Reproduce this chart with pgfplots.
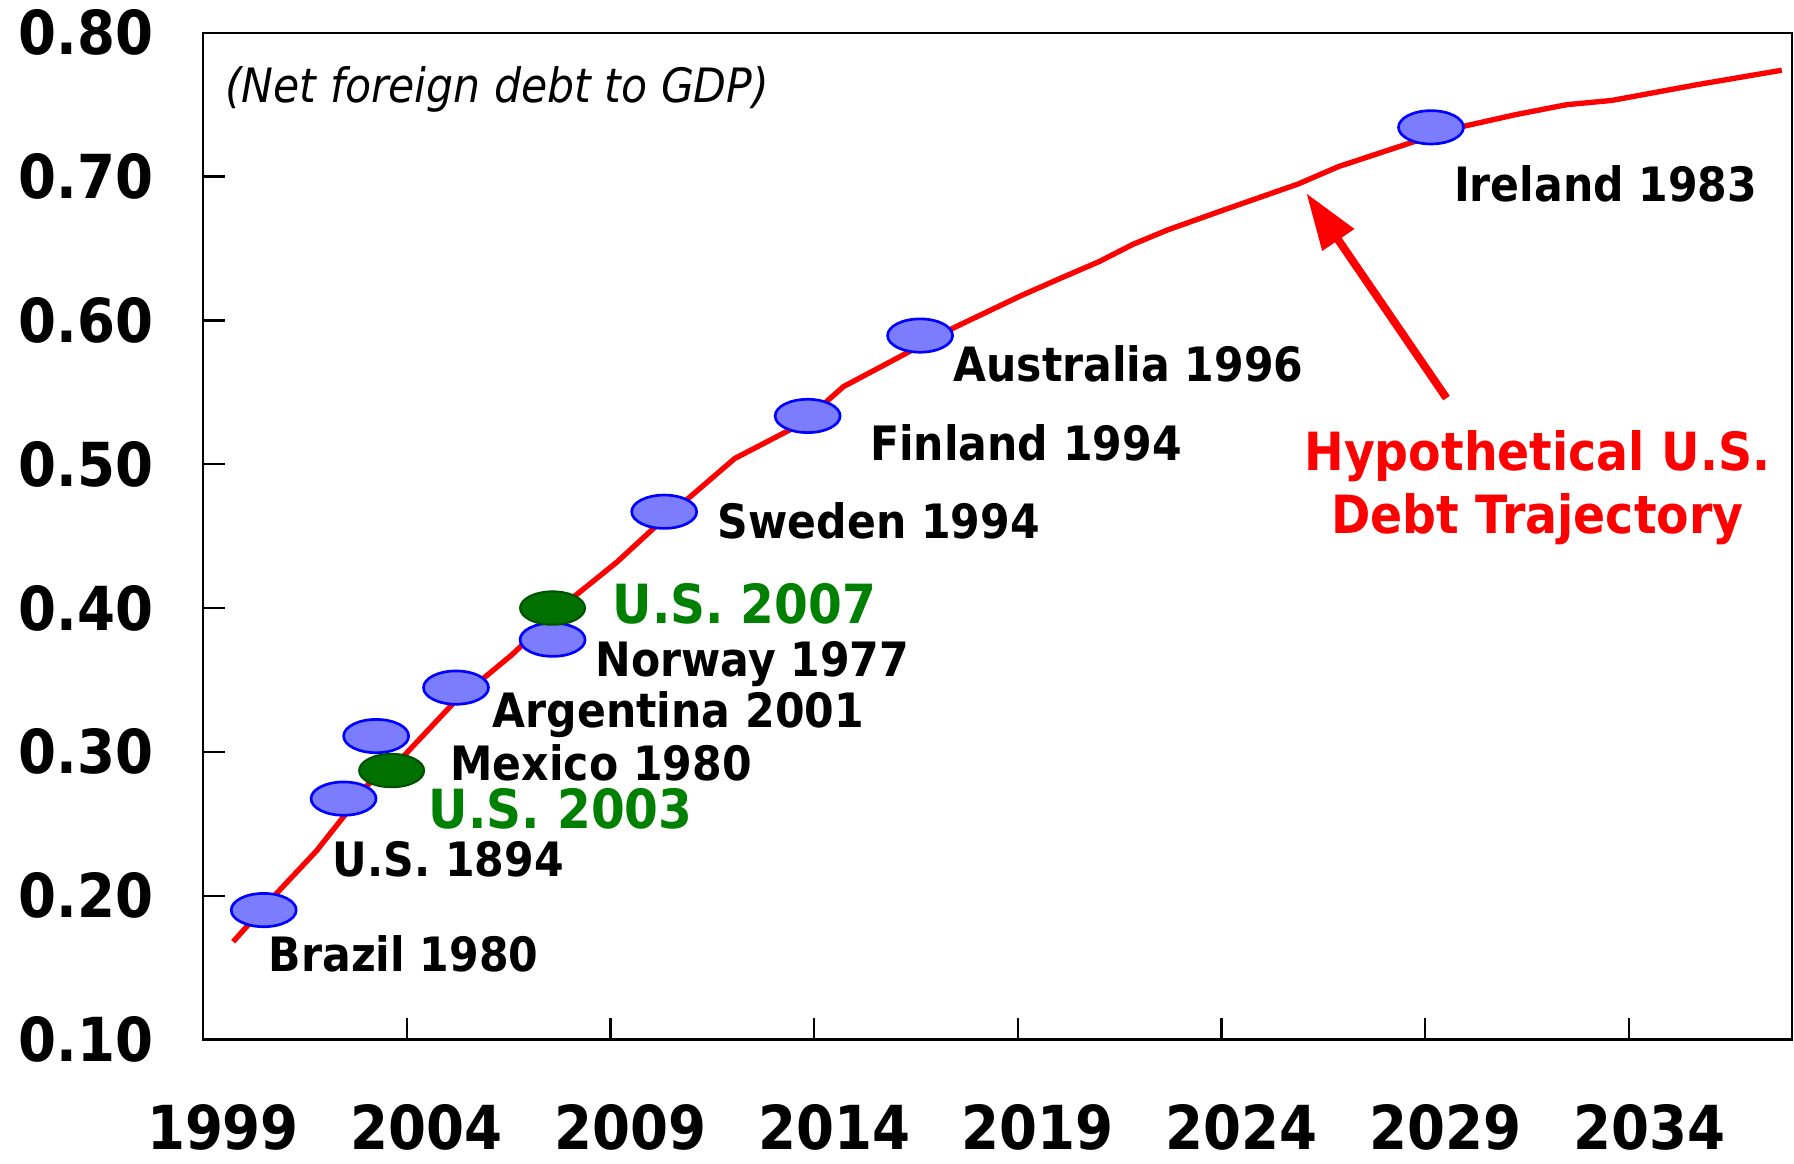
\documentclass[border=0pt]{standalone}
\usepackage{fontspec}
\setmainfont{DejaVu Sans Condensed}
\usepackage{pgfplots}
\pgfplotsset{compat=1.18}
\usetikzlibrary{arrows.meta}
\definecolor{markblue}{HTML}{7C7CFF}
\definecolor{usgreen}{HTML}{007000}
\definecolor{usgreenedge}{HTML}{005000}
\definecolor{labgreen}{HTML}{008000}

\begin{document}
\begin{tikzpicture}
\begin{axis}[
  scale only axis,
  width=476.7pt,
  height=302pt,
  xmin=1999, xmax=2038,
  ymin=0.1, ymax=0.8,
  xtick={1999,2004,...,2034},
  ytick={0.1,0.2,...,0.8},
  xticklabel={\pgfmathprintnumber[1000 sep={}]{\tick}},
  yticklabel style={/pgf/number format/fixed, /pgf/number format/fixed zerofill,
    /pgf/number format/precision=2},
  /pgf/number format/assume math mode=true,
  tick label style={font=\bfseries\fontsize{18.2}{20}\selectfont},
  xticklabel style={yshift=-16pt, xshift=6pt},
  yticklabel style={xshift=-11.4pt},
  tick align=inside,
  xtick pos=left, ytick pos=left,
  major tick length=6.5pt,
  axis line style={line width=0.8pt},
  every tick/.style={black, line width=0.7pt},
  clip=false,
]
% hypothetical trajectory
\addplot[red, line width=1.6pt] coordinates {
  (1999.74,0.168) (2000.72,0.199) (2001.78,0.231) (2002.48,0.256)
  (2003.04,0.277) (2003.89,0.296) (2005.15,0.334) (2006.56,0.367)
  (2008.11,0.408) (2009.16,0.432) (2010.08,0.456) (2012.05,0.504)
  (2013.68,0.528) (2014.72,0.554) (2016.05,0.574) (2017.36,0.594)
  (2019.06,0.617) (2020.02,0.629) (2021.00,0.641) (2021.83,0.653)
  (2022.68,0.663) (2024.07,0.677) (2025.89,0.695) (2026.87,0.707)
  (2028.69,0.724) (2029.94,0.735) (2031.20,0.743) (2032.46,0.750)
  (2033.58,0.753) (2035.68,0.764) (2037.75,0.774)
};
% other countries
\addplot[only marks, mark=*, mark size=5pt,
  mark options={xscale=1.95, fill=markblue, draw=blue, line width=0.8pt}]
  coordinates {
  (2000.49,0.190) (2002.45,0.2675) (2003.25,0.311) (2005.21,0.3447)
  (2007.58,0.378) (2010.32,0.467) (2013.84,0.5336) (2016.60,0.5895)
  (2029.14,0.7343)
};
% U.S.
\addplot[only marks, mark=*, mark size=5pt,
  mark options={xscale=1.95, fill=usgreen, draw=usgreenedge, line width=0.6pt}]
  coordinates {(2003.63,0.287) (2007.58,0.400)};

\begin{scope}[every node/.style={anchor=west, inner sep=0pt, font=\bfseries\fontsize{14.2}{16}\selectfont}]
\node at (axis cs:2000.60,0.1593) {Brazil 1980};
\node at (axis cs:2002.17,0.2254) {U.S. 1894};
\node at (axis cs:2005.06,0.2922) {Mexico 1980};
\node at (axis cs:2006.10,0.3256) {Argentina 2001};
\node at (axis cs:2008.62,0.3614) {Norway 1977};
\node at (axis cs:2011.62,0.4609) {Sweden 1994};
\node at (axis cs:2015.36,0.5150) {Finland 1994};
\node at (axis cs:2017.40,0.5699) {Australia 1996};
\node at (axis cs:2029.69,0.6948) {Ireland 1983};
\node[text=labgreen, font=\bfseries\fontsize{16.2}{18}\selectfont] at (axis cs:2004.53,0.2604) {U.S. 2003};
\node[text=labgreen, font=\bfseries\fontsize{16.2}{18}\selectfont] at (axis cs:2009.04,0.4028) {U.S. 2007};
\node[font=\itshape\fontsize{14.2}{16}\selectfont] at (axis cs:1999.53,0.7608) {(Net foreign debt to GDP)};
\end{scope}
\node[text=red, align=center, font=\bfseries\fontsize{15.8}{18.8}\selectfont]
  at (axis cs:2031.75,0.4835) {Hypothetical U.S.\\Debt Trajectory};
\draw[red, line width=2.4pt, -{Triangle[length=17pt, width=11pt]}]
  (axis cs:2029.52,0.546) -- (axis cs:2026.08,0.6885);
\end{axis}
\pgfresetboundingbox
\path (-60.9pt,-37.05pt) rectangle (477.3pt,311.85pt);
\end{tikzpicture}
\end{document}
